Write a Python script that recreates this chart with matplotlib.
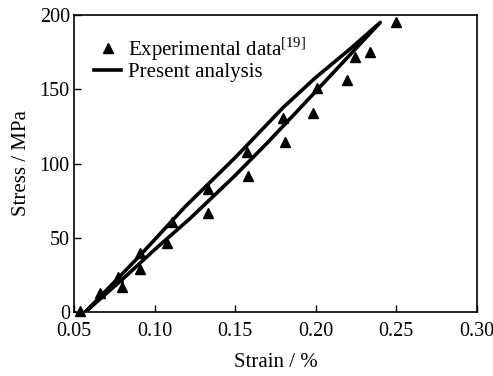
import matplotlib
matplotlib.use('Agg')
import matplotlib.pyplot as plt

plt.rcParams['font.family'] = 'Liberation Serif'
plt.rcParams['mathtext.fontset'] = 'custom'
plt.rcParams['mathtext.rm'] = 'Liberation Serif'

# Datos experimentales (triángulos)
exp_strain = [0.0537, 0.0661, 0.0773, 0.0798, 0.0909, 0.0909, 0.1077, 0.1108,
              0.1332, 0.1332, 0.1573, 0.1579, 0.1797, 0.1809, 0.2007, 0.1983,
              0.2194, 0.2243, 0.2336, 0.2498]
exp_stress = [0.7, 12.8, 23.6, 16.8, 39.7, 29.0, 46.5, 60.6,
              82.8, 66.7, 107.7, 91.6, 130.6, 114.5, 150.8, 134.0,
              156.2, 171.7, 175.1, 195.3]

# Curva del análisis: carga y descarga
load_strain = [0.057, 0.080, 0.100, 0.122, 0.150, 0.170, 0.190, 0.215, 0.240]
load_stress = [0, 22, 42, 63, 92, 114, 137, 166, 195]
unload_strain = [0.240, 0.220, 0.200, 0.180, 0.150, 0.119, 0.090, 0.057]
unload_stress = [195, 176, 158, 138, 104, 71, 37, 0]

fig = plt.figure(figsize=(4.93, 3.76), dpi=100)
ax = fig.add_axes([0.150, 0.170, 0.8175, 0.790])

ax.plot(exp_strain, exp_stress, linestyle='none', marker='^', color='black',
        markersize=6.5, label='Experimental data$^{\\mathrm{[19]}}$', clip_on=False, zorder=3)
ax.plot(load_strain + unload_strain[1:], load_stress + unload_stress[1:],
        color='black', linewidth=2.6, label='Present analysis')

ax.set_xlim(0.05, 0.30)
ax.set_ylim(0, 200)
ax.set_xticks([0.05, 0.10, 0.15, 0.20, 0.25, 0.30])
ax.set_xticklabels(['0.05', '0.10', '0.15', '0.20', '0.25', '0.30'])
ax.set_yticks([0, 50, 100, 150, 200])
ax.tick_params(direction='in', length=5, width=1, labelsize=14.5)
ax.tick_params(axis='x', pad=7)
ax.tick_params(axis='y', pad=3)
for s in ax.spines.values():
    s.set_linewidth(1.2)

ax.set_xlabel('Strain / %', fontsize=15, labelpad=9)
ax.set_ylabel('Stress / MPa', fontsize=15, labelpad=6)

ax.legend(loc='upper left', frameon=False, fontsize=15, handlelength=1.3,
          handletextpad=0.3, borderaxespad=0.0, labelspacing=0.0,
          bbox_to_anchor=(0.03, 0.96))

fig.savefig('out.png', dpi=100)
